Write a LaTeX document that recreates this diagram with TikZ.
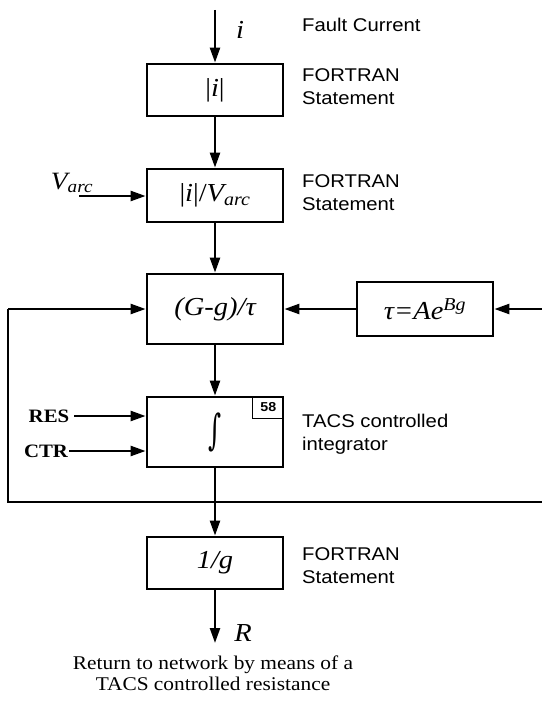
\documentclass[tikz,border=0pt]{standalone}
\usepackage{graphicx}
\usepackage{fontspec}
\setmainfont[FakeStretch=1.1]{Liberation Serif}
\newfontfamily\lsans[FakeStretch=1.1]{Liberation Sans}
\newfontfamily\djserif{DejaVu Serif}
\usetikzlibrary{arrows.meta,calc}
\begin{document}
\begin{tikzpicture}[x=1bp,y=-1bp,
  blk/.style={draw,line width=2.8bp,inner sep=0pt,minimum width=136bp,font=\fontsize{26}{28}\selectfont\itshape},
  arr/.style={line width=2.4bp,-{Triangle[length=15bp,width=10bp]}},
  ln/.style={line width=2.4bp},
  note/.style={anchor=west,align=left,inner sep=0pt,font=\lsans\fontsize{18.5}{23}\selectfont},
  sym/.style={inner sep=0pt,font=\fontsize{26}{28}\selectfont\itshape}]
\useasboundingbox (0,0) rectangle (542,703);
\node[blk,minimum height=52bp] (b1) at (215,90) {\upshape|\itshape i\upshape|};
\node[blk,minimum height=53bp] (b2) at (215,195.5) {\upshape|\itshape i\upshape|/\itshape V\textsubscript{arc}};
\node[blk,minimum height=70bp] (b3) at (215,309) {(G-g)/τ};
\node[blk,minimum height=54bp] (tau) at (425,309) {τ=Ae\textsuperscript{Bg}};
\node[blk,minimum height=70bp] (int) at (215,432) {\scalebox{0.9}[1.5]{\djserif\upshape\fontsize{28}{30}\selectfont ∫}};
\node[draw,line width=1.3bp,anchor=north east,minimum width=31bp,minimum height=22bp,inner sep=0pt,font=\lsans\bfseries\fontsize{13}{14}\selectfont] (n58) at (int.north east) {58};
\node[blk,minimum height=52bp] (b4) at (215,563) {1/g};
\coordinate (top) at (215,10);
\coordinate (bot) at (215,643);
\coordinate (fbL) at (8,502);
\coordinate (fbR) at (545,502);
\coordinate (tauin) at (545,309);
\node[sym] (i) at (240,30) {i};
\node[sym] (R) at (243,633) {R};
\node[sym,font=\fontsize{25}{27}\selectfont\itshape] (varc) at (72,183) {V\textsubscript{arc}};
\coordinate (varcs) at (79,196);
\node[inner sep=0pt,font=\bfseries\fontsize{19}{21}\selectfont] (res) at (49,416) {RES};
\node[inner sep=0pt,font=\bfseries\fontsize{19}{21}\selectfont] (ctr) at (46,451) {CTR};
\node[note] (fc) at (302,25) {Fault Current};
\node[note] (f1) at (302,87) {FORTRAN\\Statement};
\node[note] (f2) at (302,193) {FORTRAN\\Statement};
\node[note] (tc) at (302,434) {TACS controlled\\integrator};
\node[note] (f3) at (302,566) {FORTRAN\\Statement};
\node[align=center,inner sep=0pt,font=\fontsize{19.5}{21}\selectfont] (ret) at (213,673) {Return to network by means of a\\TACS controlled resistance};
\draw[arr] (top) -- (b1.north);
\draw[arr] (b1.south) -- (b2.north);
\draw[arr] (b2.south) -- (b3.north);
\draw[arr] (b3.south) -- (int.north);
\draw[arr] (int.south) -- (b4.north);
\draw[arr] (b4.south) -- (bot);
\draw[arr] (varcs) -- (b2.west |- varcs);
\draw[arr] (res.east) ++(5,0) -- (int.west |- res);
\draw[arr] (ctr.east) ++(1,0) -- (int.west |- ctr);
\draw[arr] (tau.west) -- (b3.east);
\draw[arr] (tauin) -- (tau.east);
\draw[ln] (fbR) -- (fbL) -- (fbL |- b3.west);
\draw[arr] (fbL |- b3.west) -- (b3.west);
\end{tikzpicture}
\end{document}
